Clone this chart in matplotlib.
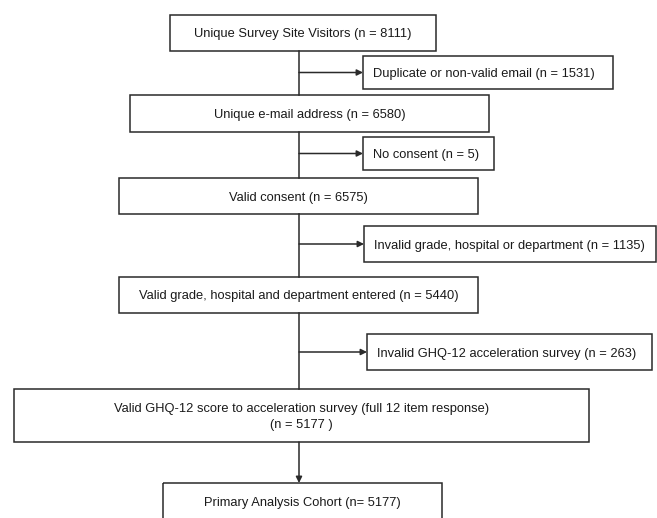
import matplotlib
matplotlib.use('Agg')
from matplotlib import pyplot as plt
from matplotlib.patches import Rectangle

# Flow of participants (main column) and the exclusions branching off to the right
main_labels = ['Unique Survey Site Visitors (n = 8111)',
               'Unique e-mail address (n = 6580)',
               'Valid consent (n = 6575)',
               'Valid grade, hospital and department entered (n = 5440)',
               'Valid GHQ-12 score to acceleration survey (full 12 item response)\n(n = 5177 )',
               'Primary Analysis Cohort (n= 5177)']
excl_labels = ['Duplicate or non-valid email (n = 1531)',
               'No consent (n = 5)',
               'Invalid grade, hospital or department (n = 1135)',
               'Invalid GHQ-12 acceleration survey (n = 263)']

# layout in pixels (x0, x1, y0, y1), y measured from top
main_boxes = [(170, 436, 15, 51),
              (130, 489, 95, 132),
              (119, 478, 178, 214),
              (119, 478, 277, 313),
              (14, 589, 389, 442),
              (163, 442, 483, 530)]
excl_boxes = [(363, 613, 56, 89),
              (363, 494, 137, 170),
              (364, 656, 226, 262),
              (367, 652, 334, 370)]
spine_x = 299
W, H = 657, 518
edge = '#2a2a2a'
fs = 9.25
font = 'Liberation Sans'

fig = plt.figure(figsize=(W/100, H/100), dpi=100)
ax = fig.add_axes([0, 0, 1, 1])
ax.set_xlim(0, W)
ax.set_ylim(H, 0)
ax.axis('off')

def box(b, label, align='center'):
    x0, x1, y0, y1 = b
    ax.add_patch(Rectangle((x0, y0), x1-x0, y1-y0, fill=False, ec=edge, lw=1.1))
    # bottom box is cut off by the page edge, text sits near its top
    yc = (y0 + y1) / 2 + 1.5 if y1 <= H else y0 + 20
    if align == 'center':
        ax.text((x0+x1)/2, yc, label, ha='center', va='center', fontsize=fs,
                family=font, color='#1a1a1a', linespacing=1.4)
    else:
        ax.text(x0 + 10, yc, label, ha='left', va='center', fontsize=fs,
                family=font, color='#1a1a1a')

for b, lab in zip(main_boxes, main_labels):
    box(b, lab)
for b, lab in zip(excl_boxes, excl_labels):
    box(b, lab, align='left')

# vertical spine between main boxes
for i in range(len(main_boxes) - 2):
    ax.plot([spine_x, spine_x], [main_boxes[i][3], main_boxes[i+1][2]], color=edge, lw=1.1)

# horizontal arrows to the exclusion boxes
for b in excl_boxes:
    ym = (b[2] + b[3]) / 2
    ax.annotate('', xy=(b[0], ym), xytext=(spine_x, ym),
                arrowprops=dict(arrowstyle='-|>', color=edge, lw=1.1,
                                mutation_scale=9, shrinkA=0, shrinkB=0))

# final arrow into primary cohort
ax.annotate('', xy=(spine_x, main_boxes[-1][2]), xytext=(spine_x, main_boxes[-2][3]),
            arrowprops=dict(arrowstyle='-|>', color=edge, lw=1.1,
                            mutation_scale=9, shrinkA=0, shrinkB=0))

fig.savefig('out.png', dpi=100, facecolor='white')
